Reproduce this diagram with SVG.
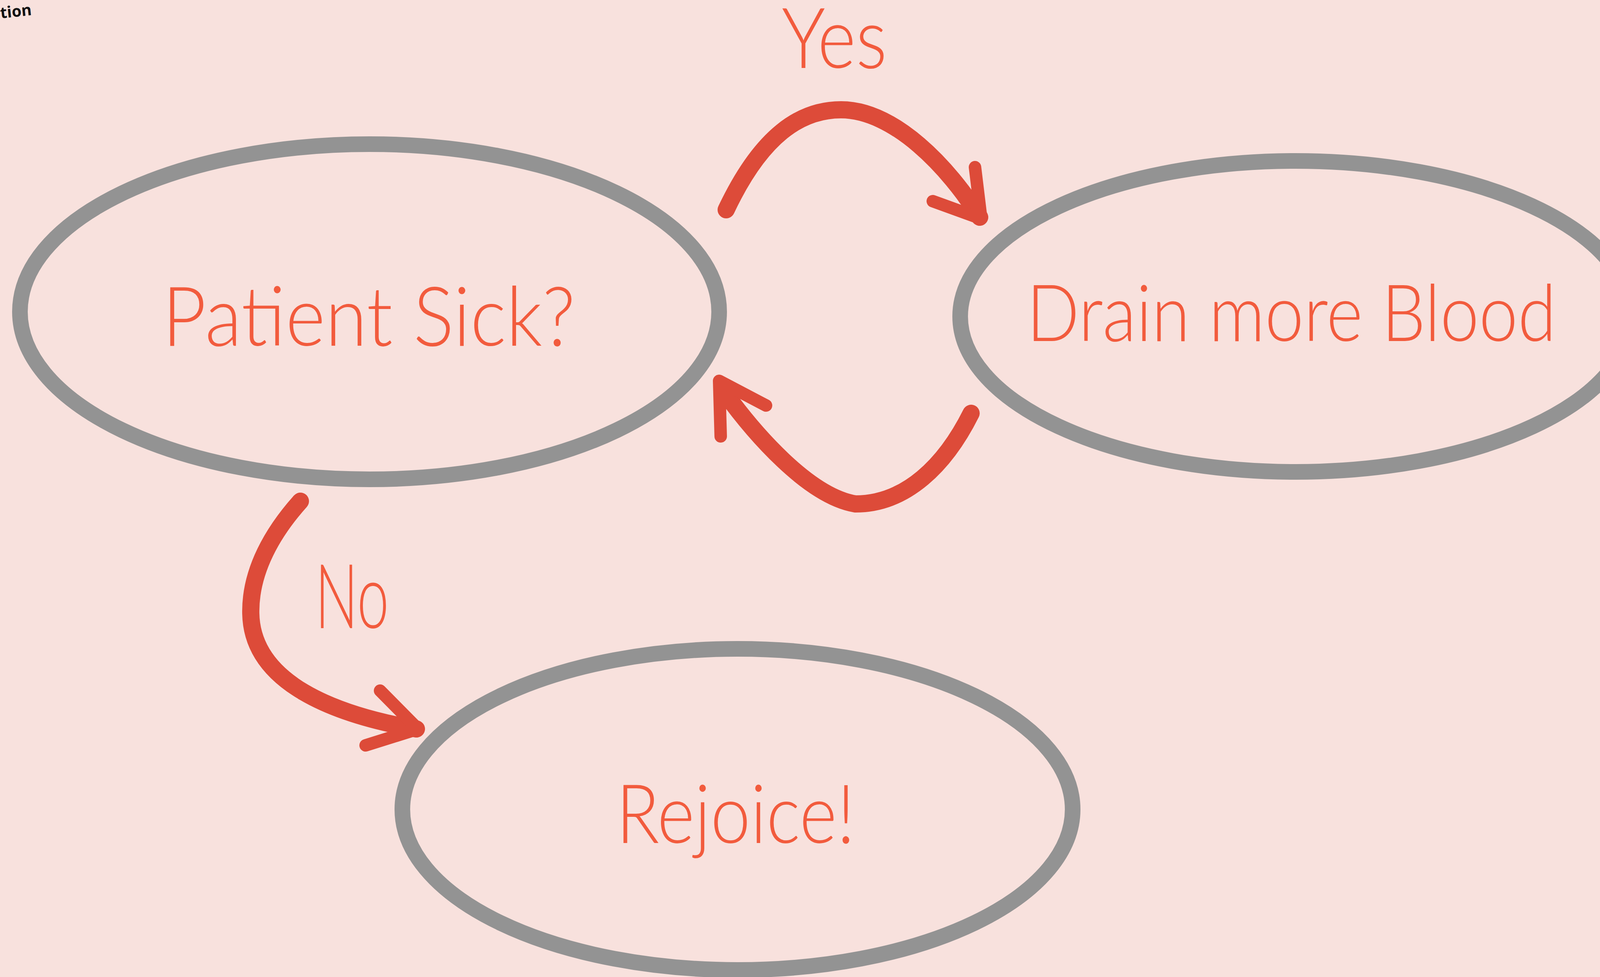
<svg xmlns="http://www.w3.org/2000/svg" width="4157" height="2501" viewBox="0 0 4157 2501">
<style>
.node{fill:none;stroke:#939393;stroke-width:40}
.lbl{font-family:"Lato","Liberation Sans",sans-serif;font-weight:300;fill:#f25b3d;text-anchor:middle}
.arc{fill:none;stroke:#dd4b39;stroke-width:44;stroke-linecap:round;stroke-linejoin:round}
.head{fill:none;stroke:#dd4b39;stroke-width:32;stroke-linecap:round;stroke-linejoin:round}
</style>
<rect width="4157" height="2501" fill="#f8e1dd"/>
<text x="2" y="47" font-family="'Open Sans','Liberation Sans',sans-serif" font-weight="700" font-size="40" fill="#111111" transform="rotate(-6 2 47)">tion</text>
<g id="node-patient">
<ellipse class="node" cx="946" cy="798" rx="895" ry="429"/>
<text class="lbl" x="944" y="885" font-size="212" textLength="1057" lengthAdjust="spacingAndGlyphs">Patient Sick?</text>
</g>
<g id="node-drain">
<ellipse class="node" cx="3317" cy="810" rx="859" ry="398"/>
<text class="lbl" x="3306" y="873" font-size="202" textLength="1356" lengthAdjust="spacingAndGlyphs">Drain more Blood</text>
</g>
<g id="node-rejoice">
<ellipse class="node" cx="1888" cy="2072" rx="858" ry="411"/>
<text class="lbl" x="1883" y="2158" font-size="210" textLength="612" lengthAdjust="spacingAndGlyphs">Rejoice!</text>
</g>
<g id="connectors">
<g id="edge-yes">
<path class="arc" d="M1859,537 C1950,345 2050,281 2153,281 C2290,281 2430,430 2508,556"/>
<path class="head" d="M2496,428 L2512,560 L2388,515"/>
<text class="lbl" x="2136" y="174" font-size="216" textLength="270" lengthAdjust="spacingAndGlyphs">Yes</text>
</g>
<g id="edge-back">
<path class="arc" d="M2486,1058 C2420,1190 2320,1290 2190,1290 C2070,1270 1930,1110 1848,995"/>
<path class="head" d="M1845,1117 L1841,975 L1961,1038"/>
</g>
<g id="edge-no">
<path class="arc" d="M769,1283 C700,1360 640,1460 642,1570 C645,1750 860,1830 1066,1866"/>
<path class="head" d="M973,1768 L1070,1866 L936,1908"/>
<text class="lbl" x="901" y="1608" font-size="230" textLength="189" lengthAdjust="spacingAndGlyphs">No</text>
</g>
</g>
</svg>
